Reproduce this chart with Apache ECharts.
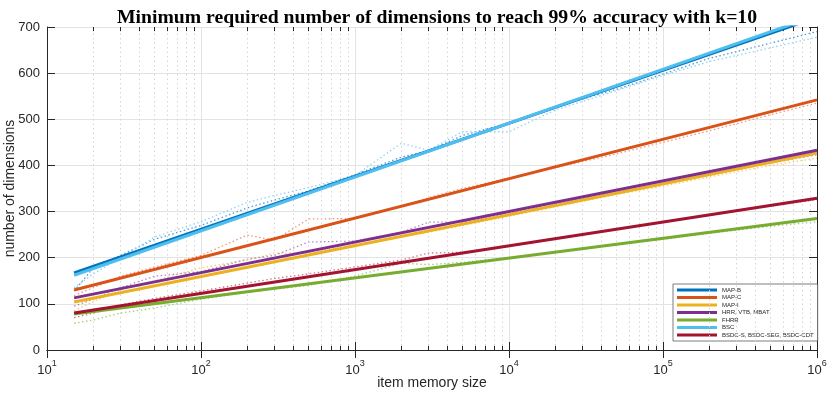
<!DOCTYPE html>
<html>
<head>
<meta charset="utf-8">
<script src="https://cdn.jsdelivr.net/npm/echarts@6/dist/echarts.min.js"></script>
<style>
  html, body { margin: 0; padding: 0; background: #fff; }
  #main { width: 830px; height: 394px; }
</style>
</head>
<body>
<div id="main"></div>
<script>
// fitted lines (two end points, straight on the log axis)
const xFit = [15, 1e6];
const fitMapB = [167, 721];
const fitMapC = [130, 542];
const fitMapI = [104, 427];
const fitHrr = [113, 433];
const fitFhrr = [78, 285];
const fitBsc = [162, 725];
const fitBsdc = [80, 329];

// measured points (dotted)
const xMeas = [15, 20, 30, 50, 100, 200, 300, 500, 1000, 2000, 3000, 5000, 1e4, 2e4, 5e4, 1e5, 2e5, 5e5, 1e6];
const measMapB = [128, 178, 205, 240, 270, 308, 325, 345, 380, 418, 432, 465, 492, 527, 565, 598, 632, 665, 690];
const measBsc = [135, 165, 200, 245, 278, 320, 335, 352, 378, 448, 433, 473, 473, 520, 562, 595, 625, 655, 678];
const measMapC = [118, 135, 160, 180, 205, 249, 238, 284, 285, 311, 330, 350, 372, 395, 425, 450, 475, 510, 535];
const measHrr = [95, 110, 135, 160, 170, 197, 205, 234, 236, 255, 277, 277, 297, 318, 342, 360, 380, 405, 423];
const measMapI = [85, 105, 130, 150, 178, 195, 210, 210, 228, 245, 255, 270, 290, 310, 337, 355, 375, 400, 416];
const measBsdc = [70, 80, 98, 112, 128, 145, 155, 165, 180, 195, 210, 212, 225, 240, 262, 277, 292, 312, 326];
const measFhrr = [58, 65, 80, 91, 110, 125, 132, 140, 160, 188, 185, 190, 200, 212, 228, 240, 253, 268, 278];

const names = ['MAP-B', 'MAP-C', 'MAP-I', 'HRR, VTB, MBAT', 'FHRR', 'BSC', 'BSDC-S, BSDC-SEG, BSDC-CDT'];

// minor tick positions of the log axis
const minorX = [];
for (let d = 10; d < 1e6; d *= 10) {
  for (let m = 2; m <= 9; m++) minorX.push(d * m);
}

const axisColor = '#262626';
const gridColor = '#e3e3e3';

let chartDom = document.getElementById('main');
let myChart = echarts.init(chartDom);

function pairs(xs, ys) {
  return xs.map(function (x, i) { return [x, ys[i]]; });
}

function fitLine(name, ys, color) {
  return {
    name: name,
    type: 'line',
    data: pairs(xFit, ys),
    color: color,
    showSymbol: false,
    lineStyle: { width: 3, color: color },
    z: 5
  };
}

function measLine(ys, color) {
  return {
    name: '',
    type: 'line',
    data: pairs(xMeas, ys),
    showSymbol: false,
    lineStyle: { width: 1.3, type: [1.5, 2.5], color: color },
    z: 3
  };
}

let minorGrid = {
  name: '',
  type: 'line',
  data: [],
  markLine: {
    silent: true,
    symbol: 'none',
    label: { show: false },
    animation: false,
    lineStyle: { type: [1.5, 3], color: '#d4d4d4', width: 1 },
    data: minorX.map(function (v) { return { xAxis: v }; })
  },
  z: 1
};

let minorTicks = {
  name: '',
  type: 'line',
  data: [],
  markLine: {
    silent: true,
    symbol: 'none',
    label: { show: false },
    animation: false,
    lineStyle: { type: 'solid', color: axisColor, width: 1 },
    data: minorX.map(function (v) { return [{ coord: [v, 0] }, { coord: [v, 9] }]; })
      .concat(minorX.map(function (v) { return [{ coord: [v, 700] }, { coord: [v, 691] }]; }))
  },
  z: 2
};

let option = {
  animation: false,
  backgroundColor: '#fff',
  title: {
    text: 'Minimum required number of dimensions to reach 99% accuracy with k=10',
    left: 432,
    textAlign: 'center',
    top: 3,
    textStyle: { fontFamily: 'Liberation Serif', fontWeight: 'bold', fontSize: 19.7, color: '#000' }
  },
  grid: { left: 47, right: 13, top: 27, bottom: 44, outerBoundsMode: 'none', containLabel: false },
  legend: {
    data: names,
    orient: 'vertical',
    left: 673,
    top: 284,
    icon: 'rect',
    itemWidth: 40,
    itemHeight: 3,
    itemGap: 1.5,
    padding: [3, 4, 3, 4],
    backgroundColor: '#fff',
    borderColor: axisColor,
    borderWidth: 0.6,
    textStyle: { fontSize: 6, lineHeight: 6, color: '#262626', fontFamily: 'Liberation Sans' }
  },
  xAxis: [{
    type: 'log',
    logBase: 10,
    min: 10,
    max: 1e6,
    name: 'item memory size',
    nameLocation: 'middle',
    nameGap: 26,
    nameMoveOverlap: false,
    nameTextStyle: { fontSize: 14, color: '#262626', fontFamily: 'Liberation Sans' },
    axisLine: { lineStyle: { color: axisColor } },
    axisTick: { inside: true, length: 8, lineStyle: { color: axisColor } },
    axisLabel: {
      margin: 9,
      color: '#262626',
      fontFamily: 'Liberation Sans',
      formatter: function (v) { return '{b|10}{s|' + Math.round(Math.log10(v)) + '}'; },
      rich: {
        b: { fontSize: 13, lineHeight: 18, verticalAlign: 'bottom', color: '#262626' },
        s: { fontSize: 9, lineHeight: 18, verticalAlign: 'top', color: '#262626' }
      }
    },
    splitLine: { show: true, lineStyle: { color: gridColor } }
  }, {
    type: 'log',
    logBase: 10,
    min: 10,
    max: 1e6,
    position: 'top',
    axisLine: { lineStyle: { color: axisColor } },
    axisTick: { inside: true, length: 8, lineStyle: { color: axisColor } },
    axisLabel: { show: false },
    splitLine: { show: false }
  }],
  yAxis: [{
    type: 'value',
    min: 0,
    max: 700,
    interval: 100,
    name: 'number of dimensions',
    nameLocation: 'middle',
    nameGap: 30,
    nameMoveOverlap: false,
    nameTextStyle: { fontSize: 14, color: '#262626', fontFamily: 'Liberation Sans' },
    axisLine: { show: true, lineStyle: { color: axisColor } },
    axisTick: { show: true, inside: true, length: 8, lineStyle: { color: axisColor } },
    axisLabel: { fontSize: 13, margin: 7, color: '#262626', fontFamily: 'Liberation Sans' },
    splitLine: { show: true, lineStyle: { color: gridColor } }
  }, {
    type: 'value',
    min: 0,
    max: 700,
    interval: 100,
    position: 'right',
    axisLine: { show: true, lineStyle: { color: axisColor } },
    axisTick: { show: true, inside: true, length: 8, lineStyle: { color: axisColor } },
    axisLabel: { show: false },
    splitLine: { show: false }
  }],
  series: [
    minorGrid,
    minorTicks,
    measLine(measMapB, '#4d9bd6'),
    measLine(measMapC, '#eb9a76'),
    measLine(measMapI, '#f3cc6a'),
    measLine(measHrr, '#b088c0'),
    measLine(measFhrr, '#a6cc7e'),
    measLine(measBsc, '#8dd5f3'),
    measLine(measBsdc, '#cf7587'),
    fitLine(names[0], fitMapB, '#0072BD'),
    fitLine(names[1], fitMapC, '#D95319'),
    fitLine(names[2], fitMapI, '#EDB120'),
    fitLine(names[3], fitHrr, '#7E2F8E'),
    fitLine(names[4], fitFhrr, '#77AC30'),
    fitLine(names[5], fitBsc, '#4DBEEE'),
    fitLine(names[6], fitBsdc, '#A2142F')
  ]
};

myChart.setOption(option);
window.addEventListener('resize', () => {
  myChart.resize();
});
</script>
</body>
</html>
